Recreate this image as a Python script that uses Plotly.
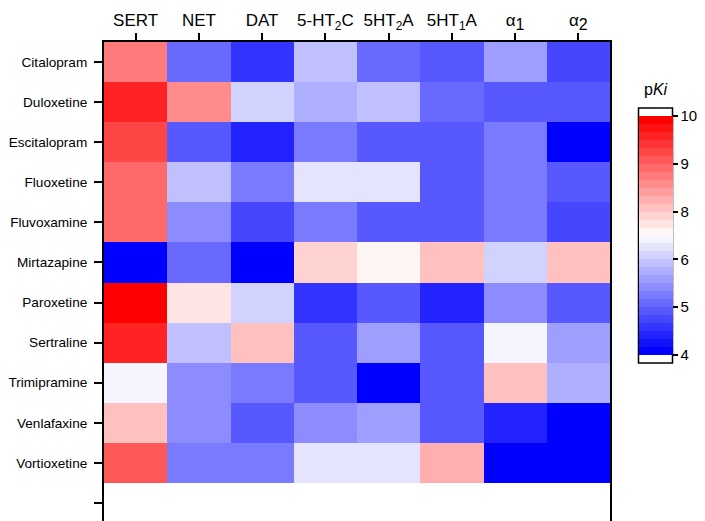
import plotly.graph_objects as go

# Receptor / transporter targets (columns) and drugs (rows)
targets = ["SERT", "NET", "DAT", "5-HT<sub>2</sub>C", "5HT<sub>2</sub>A",
           "5HT<sub>1</sub>A",
           "α<sub><span style='font-size:16px'>1</span></sub>",
           "α<sub><span style='font-size:16px'>2</span></sub>"]
drugs = ["Citalopram", "Duloxetine", "Escitalopram", "Fluoxetine", "Fluvoxamine",
         "Mirtazapine", "Paroxetine", "Sertraline", "Trimipramine", "Venlafaxine",
         "Vortioxetine"]

# pKi values per drug, in target order
citalopram = [8.5, 5.3, 4.7, 6.3, 5.3, 5.1, 5.9, 4.9]
duloxetine = [9.5, 8.3, 6.5, 6.1, 6.3, 5.3, 5.1, 5.1]
escitalopram = [9.1, 5.1, 4.5, 5.5, 5.1, 5.1, 5.5, 4.1]
fluoxetine = [8.7, 6.3, 5.5, 6.7, 6.7, 5.1, 5.5, 5.1]
fluvoxamine = [8.7, 5.7, 4.9, 5.5, 5.1, 5.1, 5.5, 4.9]
mirtazapine = [4.1, 5.3, 4.1, 7.5, 7.1, 7.7, 6.5, 7.7]
paroxetine = [9.9, 7.3, 6.5, 4.7, 5.1, 4.5, 5.7, 5.1]
sertraline = [9.5, 6.3, 7.7, 5.1, 5.9, 5.1, 6.9, 5.9]
trimipramine = [6.9, 5.7, 5.5, 5.1, 4.1, 5.1, 7.7, 6.1]
venlafaxine = [7.7, 5.7, 5.1, 5.7, 5.9, 5.1, 4.5, 4.1]
vortioxetine = [8.9, 5.5, 5.5, 6.7, 6.7, 7.9, 4.1, 4.1]

z = [citalopram, duloxetine, escitalopram, fluoxetine, fluvoxamine, mirtazapine,
     paroxetine, sertraline, trimipramine, venlafaxine, vortioxetine]

# Colour bar tick labels
cbar_labels = ["10", "9", "8", "6", "5", "4"]

zmin, zmax = 4, 10
n_levels = 30

# Stepped blue-white-red colour scale
colorscale = []
for b in range(n_levels):
    if b < n_levels // 2:
        k = round(17.5 * b)
        col = f"rgb({k},{k},255)"
    else:
        k = round(17.5 * (n_levels - 1 - b))
        col = f"rgb(255,{k},{k})"
    colorscale.append([b / n_levels, col])
    colorscale.append([(b + 1) / n_levels, col])

W, H = 705, 521
ml, mr, mt, mb = 104, 95, 42, 0
pw = W - ml - mr
ph = H - mt - mb

def px_x(x):
    return (x - ml) / pw

def px_y(y):
    return 1 - (y - mt) / ph

cb_top, cb_bot = 116, 355
cb_left, cb_right = 638.5, 672.5
tick_pos = [zmax - i * (zmax - zmin) / (len(cbar_labels) - 1) for i in range(len(cbar_labels))]

fig = go.Figure(go.Heatmap(
    z=z,
    x=list(range(len(targets))),
    y=list(range(len(drugs))),
    zmin=zmin, zmax=zmax,
    colorscale=colorscale,
    xgap=0, ygap=0,
    colorbar=dict(
        thicknessmode="pixels", thickness=cb_right - cb_left,
        lenmode="pixels", len=cb_bot - cb_top,
        x=px_x(cb_left), xanchor="left", xpad=0,
        y=px_y(cb_top), yanchor="top", ypad=0,
        outlinewidth=0,
        ticks="outside", ticklen=5, tickwidth=1.5, tickcolor="black",
        tickvals=tick_pos, ticktext=cbar_labels,
        tickfont=dict(family="Liberation Sans, Arial", size=15, color="black"),
    ),
))

fig.update_xaxes(
    side="top", range=[-0.5, len(targets) - 0.5],
    tickmode="array", tickvals=list(range(len(targets))), ticktext=targets,
    showline=True, linewidth=2, linecolor="black", mirror=False,
    ticks="outside", ticklen=7, tickwidth=2, tickcolor="black",
    showgrid=False, zeroline=False,
    tickfont=dict(family="Liberation Sans, Arial", size=17, color="black"),
)
fig.update_yaxes(
    range=[11.45, -0.5],
    tickmode="array", tickvals=list(range(len(drugs) + 1)), ticktext=drugs + [""],
    showline=True, linewidth=2, linecolor="black", mirror=True,
    ticks="outside", ticklen=8, tickwidth=2, tickcolor="black",
    ticklabelstandoff=4,
    showgrid=False, zeroline=False,
    tickfont=dict(family="Liberation Sans, Arial", size=13.6, color="black"),
)

# Frame around the colour bar with white end caps
fig.add_shape(type="rect", xref="paper", yref="paper",
              x0=px_x(cb_left), x1=px_x(cb_right),
              y0=px_y(cb_bot + 8), y1=px_y(cb_top - 8),
              line=dict(color="black", width=1.5), fillcolor="rgba(0,0,0,0)", layer="above")
fig.add_annotation(xref="paper", yref="paper", x=px_x((cb_left + cb_right) / 2), y=px_y(89),
                   text="p<i>Ki</i>", showarrow=False, xanchor="center", yanchor="middle",
                   font=dict(family="Liberation Sans, Arial", size=16, color="black"))

fig.update_layout(
    width=W, height=H,
    margin=dict(l=ml, r=mr, t=mt, b=mb, autoexpand=False),
    plot_bgcolor="white", paper_bgcolor="white",
)

fig.write_html("out.html")
